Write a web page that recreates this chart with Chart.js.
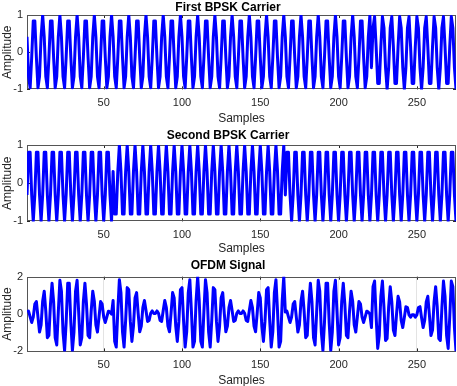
<!DOCTYPE html>
<html>
<head>
<meta charset="utf-8">
<script src="https://cdn.jsdelivr.net/npm/chart.js@4.4.1/dist/chart.umd.min.js"></script>
<style>
  html, body { margin: 0; padding: 0; background: #fff; overflow: hidden; }
  canvas { position: absolute; left: 0; }
</style>
</head>
<body>
<canvas id="bpsk1" width="457" height="125" style="top:0px"></canvas>
<canvas id="bpsk2" width="457" height="132" style="top:125px"></canvas>
<canvas id="ofdm" width="457" height="130" style="top:257px"></canvas>
<script>
// sample index 1..275 (5 symbols of 55 samples)
const samples = Array.from({length: 275}, (_, i) => i + 1);
const xTicks = [50, 100, 150, 200, 250];
const bpskTicks = [-1, 0, 1];
const ofdmTicks = [-2, 0, 2];

const firstCarrier = [
  .415,-.655,-.959,-.142,.841,.841,-.142,-.959,-.655,.415,1, .415,-.655,-.959,-.142,.841,.841,-.142,-.959,-.655,.415,1, .415,-.655,-.959,-.142,.841,.841,-.142,-.959,-.655,.415,1, .415,-.655,-.959,-.142,.841,.841,-.142,-.959,-.655,.415,1, .415,-.655,-.959,-.142,.841,.841,-.142,-.959,-.655,.415,1,
  .415,-.655,-.959,-.142,.841,.841,-.142,-.959,-.655,.415,1, .415,-.655,-.959,-.142,.841,.841,-.142,-.959,-.655,.415,1, .415,-.655,-.959,-.142,.841,.841,-.142,-.959,-.655,.415,1, .415,-.655,-.959,-.142,.841,.841,-.142,-.959,-.655,.415,1, .415,-.655,-.959,-.142,.841,.841,-.142,-.959,-.655,.415,1,
  .415,-.655,-.959,-.142,.841,.841,-.142,-.959,-.655,.415,1, .415,-.655,-.959,-.142,.841,.841,-.142,-.959,-.655,.415,1, .415,-.655,-.959,-.142,.841,.841,-.142,-.959,-.655,.415,1, .415,-.655,-.959,-.142,.841,.841,-.142,-.959,-.655,.415,1, .415,-.655,-.959,-.142,.841,.841,-.142,-.959,-.655,.415,1,
  .415,-.655,-.959,-.142,.841,.841,-.142,-.959,-.655,.415,1, .415,-.655,-.959,-.142,.841,.841,-.142,-.959,-.655,.415,1, .415,-.655,-.959,-.142,.841,.841,-.142,-.959,-.655,.415,1, .415,-.655,-.959,-.142,.841,.841,-.142,-.959,-.655,.415,1, .415,-.655,-.959,-.142,.841,.841,-.142,-.959,-.655,.415,1,
  -.415,.655,.959,.142,-.841,-.841,.142,.959,.655,-.415,-1, -.415,.655,.959,.142,-.841,-.841,.142,.959,.655,-.415,-1, -.415,.655,.959,.142,-.841,-.841,.142,.959,.655,-.415,-1, -.415,.655,.959,.142,-.841,-.841,.142,.959,.655,-.415,-1, -.415,.655,.959,.142,-.841,-.841,.142,.959,.655,-.415,-1
];

const secondCarrier = [
  -.309,.809,.809,-.309,-1, -.309,.809,.809,-.309,-1, -.309,.809,.809,-.309,-1, -.309,.809,.809,-.309,-1, -.309,.809,.809,-.309,-1, -.309,.809,.809,-.309,-1, -.309,.809,.809,-.309,-1, -.309,.809,.809,-.309,-1, -.309,.809,.809,-.309,-1, -.309,.809,.809,-.309,-1, -.309,.809,.809,-.309,-1,
  .309,-.809,-.809,.309,1, .309,-.809,-.809,.309,1, .309,-.809,-.809,.309,1, .309,-.809,-.809,.309,1, .309,-.809,-.809,.309,1, .309,-.809,-.809,.309,1, .309,-.809,-.809,.309,1, .309,-.809,-.809,.309,1, .309,-.809,-.809,.309,1, .309,-.809,-.809,.309,1, .309,-.809,-.809,.309,1,
  .309,-.809,-.809,.309,1, .309,-.809,-.809,.309,1, .309,-.809,-.809,.309,1, .309,-.809,-.809,.309,1, .309,-.809,-.809,.309,1, .309,-.809,-.809,.309,1, .309,-.809,-.809,.309,1, .309,-.809,-.809,.309,1, .309,-.809,-.809,.309,1, .309,-.809,-.809,.309,1, .309,-.809,-.809,.309,1,
  -.309,.809,.809,-.309,-1, -.309,.809,.809,-.309,-1, -.309,.809,.809,-.309,-1, -.309,.809,.809,-.309,-1, -.309,.809,.809,-.309,-1, -.309,.809,.809,-.309,-1, -.309,.809,.809,-.309,-1, -.309,.809,.809,-.309,-1, -.309,.809,.809,-.309,-1, -.309,.809,.809,-.309,-1, -.309,.809,.809,-.309,-1,
  -.309,.809,.809,-.309,-1, -.309,.809,.809,-.309,-1, -.309,.809,.809,-.309,-1, -.309,.809,.809,-.309,-1, -.309,.809,.809,-.309,-1, -.309,.809,.809,-.309,-1, -.309,.809,.809,-.309,-1, -.309,.809,.809,-.309,-1, -.309,.809,.809,-.309,-1, -.309,.809,.809,-.309,-1, -.309,.809,.809,-.309,-1
];

const ofdmSignal = [
  .106,.154,-.15,-.451,-.159,.532,.667,-.15,-.964,-.585,.691,1.224,.154,-1.268,-1.142,.532,1.65,.667,-1.268,-1.655,.106,1.809,1.224,-.964,-1.959,-.451,1.65,1.65,-.451,-1.959,-.964,1.224,1.809,.106,-1.655,-1.268,.667,1.65,.532,-1.142,-1.268,.154,1.224,.691,-.585,-.964,-.15,.667,.532,-.159,-.451,-.15,.154,.106,0,
  .724,-1.464,-1.768,.167,1.841,1.15,-.951,-1.768,-.346,1.415,1.309,-.394,-1.464,-.65,.858,1.15,.032,-.951,-.65,.345,.724,.191,-.394,-.346,.041,.167,.032,.032,.167,.041,-.346,-.394,.191,.724,.345,-.65,-.951,.032,1.15,.858,-.65,-1.464,-.394,1.309,1.415,-.346,-1.768,-.951,1.15,1.841,.167,-1.768,-1.464,.724,2,
  .724,-1.464,-1.768,.167,1.841,1.15,-.951,-1.768,-.346,1.415,1.309,-.394,-1.464,-.65,.858,1.15,.032,-.951,-.65,.345,.724,.191,-.394,-.346,.041,.167,.032,.032,.167,.041,-.346,-.394,.191,.724,.345,-.65,-.951,.032,1.15,.858,-.65,-1.464,-.394,1.309,1.415,-.346,-1.768,-.951,1.15,1.841,.167,-1.768,-1.464,.724,2,
  .106,.154,-.15,-.451,-.159,.532,.667,-.15,-.964,-.585,.691,1.224,.154,-1.268,-1.142,.532,1.65,.667,-1.268,-1.655,.106,1.809,1.224,-.964,-1.959,-.451,1.65,1.65,-.451,-1.959,-.964,1.224,1.809,.106,-1.655,-1.268,.667,1.65,.532,-1.142,-1.268,.154,1.224,.691,-.585,-.964,-.15,.667,.532,-.159,-.451,-.15,.154,.106,0,
  -.724,1.464,1.768,-.167,-1.841,-1.15,.951,1.768,.346,-1.415,-1.309,.394,1.464,.65,-.858,-1.15,-.032,.951,.65,-.345,-.724,-.191,.394,.346,-.041,-.167,-.032,-.032,-.167,-.041,.346,.394,-.191,-.724,-.345,.65,.951,-.032,-1.15,-.858,.65,1.464,.394,-1.309,-1.415,.346,1.768,.951,-1.15,-1.841,-.167,1.768,1.464,-.724,-2
];

const FONT = "'Liberation Sans', Arial, Helvetica, sans-serif";
const AXIS_COLOR = '#262626';

// matlab style box with inward ticks
const boxTicks = {
  id: 'boxTicks',
  beforeDatasetsDraw(chart) {
    const {ctx, chartArea: a, scales: {x, y}} = chart;
    ctx.save();
    ctx.strokeStyle = AXIS_COLOR;
    ctx.lineWidth = 1;
    ctx.beginPath();
    x.ticks.forEach(t => {
      const px = Math.round(x.getPixelForValue(t.value)) + 0.5;
      ctx.moveTo(px, a.bottom); ctx.lineTo(px, a.bottom - 3);
      ctx.moveTo(px, a.top); ctx.lineTo(px, a.top + 3);
    });
    y.ticks.forEach(t => {
      const py = Math.round(y.getPixelForValue(t.value)) + 0.5;
      ctx.moveTo(a.left, py); ctx.lineTo(a.left + 3, py);
      ctx.moveTo(a.right, py); ctx.lineTo(a.right - 3, py);
    });
    ctx.stroke();
    ctx.strokeStyle = '#555';
    ctx.strokeRect(Math.round(a.left) + 0.5, Math.round(a.top) + 0.5,
      Math.round(a.width) - 1, Math.round(a.height) - 1);
    ctx.restore();
  }
};

function makePlot(id, title, values, yMin, yMax, yTicks, pad, titlePadBottom, xTitlePadBottom, xGrid) {
  return new Chart(document.getElementById(id), {
    type: 'line',
    data: {
      labels: samples,
      datasets: [{
        data: values,
        borderColor: '#0000ff',
        borderWidth: 3,
        borderJoinStyle: 'round',
        pointRadius: 0,
        tension: 0,
        fill: false
      }]
    },
    options: {
      responsive: false,
      animation: false,
      events: [],
      layout: { padding: { top: pad, right: 1, bottom: 0, left: 0 } },
      plugins: {
        legend: { display: false },
        tooltip: { enabled: false },
        title: {
          display: true,
          text: title,
          color: '#000',
          font: { family: FONT, size: 12, weight: 'bold' },
          padding: { top: 0, bottom: titlePadBottom }
        }
      },
      scales: {
        x: {
          type: 'linear',
          min: 1,
          max: 275,
          afterBuildTicks: s => { s.ticks = xTicks.map(v => ({value: v})); },
          afterFit: s => { s.height = 35.6; },
          grid: { display: xGrid, drawOnChartArea: true, drawTicks: false, color: '#e3e3e3' },
          border: { display: false },
          ticks: { color: AXIS_COLOR, padding: 7, maxRotation: 0, font: { family: FONT, size: 11 } },
          title: {
            display: true, text: 'Samples', color: AXIS_COLOR,
            font: { family: FONT, size: 12 }, padding: { top: 2, bottom: xTitlePadBottom }
          }
        },
        y: {
          min: yMin,
          max: yMax,
          afterBuildTicks: s => { s.ticks = yTicks.map(v => ({value: v})); },
          afterFit: s => { s.width = 27; },
          grid: { display: false, drawTicks: false },
          border: { display: false },
          ticks: { color: AXIS_COLOR, padding: 4, font: { family: FONT, size: 11 } },
          title: {
            display: true, text: 'Amplitude', color: AXIS_COLOR,
            font: { family: FONT, size: 12 }, padding: { top: 0, bottom: 0 }
          }
        }
      }
    },
    plugins: [boxTicks]
  });
}

makePlot('bpsk1', 'First BPSK Carrier', firstCarrier, -1, 1, bpskTicks, 0, 0.6, -1, false);
makePlot('bpsk2', 'Second BPSK Carrier', secondCarrier, -1, 1, bpskTicks, 3.5, 2.1, 1, false);
makePlot('ofdm', 'OFDM Signal', ofdmSignal, -2, 2, ofdmTicks, 1.5, 3.8, -1, true);
</script>
</body>
</html>
